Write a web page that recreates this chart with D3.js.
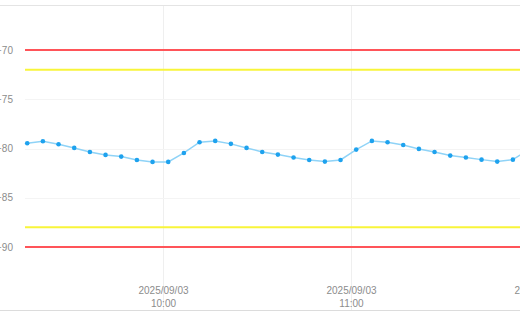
<!DOCTYPE html>
<html>
<head>
<meta charset="utf-8">
<script src="https://cdn.jsdelivr.net/npm/d3@7"></script>
<style>
  html, body { margin: 0; padding: 0; background: #fff; }
  svg { display: block; font-family: "Liberation Sans", Arial, sans-serif; }
  .axis text { fill: #8c8c8c; font-size: 10px; }
  .axis path, .axis line { stroke: none; }
</style>
</head>
<body>
<div id="chart"></div>
<script>
// readings every 5 minutes starting 09:16:40
const startTime = new Date(2025, 8, 3, 9, 16, 40);
const stepMinutes = 5;
const signalValues = [
  -79.46, -79.26, -79.57, -79.94, -80.35, -80.65, -80.82, -81.16, -81.36, -81.36,
  -80.45, -79.36, -79.23, -79.53, -79.94, -80.35, -80.62, -80.92, -81.16, -81.33,
  -81.16, -80.11, -79.23, -79.36, -79.64, -80.04, -80.35, -80.72, -80.92, -81.13,
  -81.33, -81.13, -80.1
];
const yTicks = [-70, -75, -80, -85, -90];
const redLimits = [-70, -90];
const yellowLimits = [-72, -88];
const xDomain = [new Date(2025, 8, 3, 9, 15), new Date(2025, 8, 3, 12, 0)];

const width = 520, height = 312;

const data = signalValues.map((v, i) => ({
  t: new Date(startTime.getTime() + i * stepMinutes * 60000),
  v: v
}));

const x = d3.scaleTime().domain(xDomain).range([22, 539]);
const y = d3.scaleLinear().domain([-70, -90]).range([50, 247]);
const plotLeft = 25;

const svg = d3.select('#chart').append('svg')
  .attr('width', width)
  .attr('height', height);

// frame lines
svg.append('line')
  .attr('x1', 0).attr('x2', width).attr('y1', 5.5).attr('y2', 5.5)
  .attr('stroke', '#e4e4e4');
svg.append('line')
  .attr('x1', 0).attr('x2', width).attr('y1', 310.5).attr('y2', 310.5)
  .attr('stroke', '#dcdcdc');

// grid
const hours = x.ticks(d3.timeHour.every(1));
svg.append('g').selectAll('line')
  .data(hours)
  .enter()
  .append('line')
  .attr('x1', (d) => Math.round(x(d)) + 0.5)
  .attr('x2', (d) => Math.round(x(d)) + 0.5)
  .attr('y1', 6)
  .attr('y2', 310)
  .attr('stroke', '#efefef');

svg.append('g').selectAll('line')
  .data(yTicks)
  .enter()
  .append('line')
  .attr('x1', plotLeft)
  .attr('x2', width)
  .attr('y1', (d) => Math.round(y(d)) + 0.5)
  .attr('y2', (d) => Math.round(y(d)) + 0.5)
  .attr('stroke', '#f4f4f4');

// y axis
svg.append('g')
  .attr('class', 'axis')
  .attr('transform', 'translate(16,0)')
  .call(d3.axisLeft(y).tickValues(yTicks).tickSize(0).tickPadding(3));

// x axis with two-line labels
const xAxis = svg.append('g')
  .attr('class', 'axis')
  .attr('transform', 'translate(0,282)')
  .call(d3.axisBottom(x).tickValues(hours).tickSize(0).tickFormat(''));

xAxis.selectAll('.tick').each(function (d) {
  const t = d3.select(this).append('text')
    .attr('text-anchor', 'middle')
    .attr('y', 12);
  t.append('tspan').attr('x', 0).text(d3.timeFormat('%Y/%m/%d')(d));
  t.append('tspan').attr('x', 0).attr('dy', 13).text(d3.timeFormat('%H:%M')(d));
});

// limit lines
svg.append('g').selectAll('line')
  .data(redLimits)
  .enter()
  .append('line')
  .attr('x1', plotLeft).attr('x2', width)
  .attr('y1', (d) => y(d)).attr('y2', (d) => y(d))
  .attr('stroke', '#ff5459')
  .attr('stroke-width', 2);

svg.append('g').selectAll('line')
  .data(yellowLimits)
  .enter()
  .append('line')
  .attr('x1', plotLeft).attr('x2', width)
  .attr('y1', (d) => y(d)).attr('y2', (d) => y(d))
  .attr('stroke', '#f8f53a')
  .attr('stroke-width', 2);

// series
const line = d3.line()
  .x((d) => x(d.t))
  .y((d) => y(d.v));

svg.append('path')
  .datum(data)
  .attr('d', line)
  .attr('fill', 'none')
  .attr('stroke', '#8fd3f7')
  .attr('stroke-width', 1.5);

svg.append('g').selectAll('circle')
  .data(data)
  .enter()
  .append('circle')
  .attr('cx', (d) => x(d.t))
  .attr('cy', (d) => y(d.v))
  .attr('r', 2.3)
  .attr('fill', '#1ea2ee');
</script>
</body>
</html>
